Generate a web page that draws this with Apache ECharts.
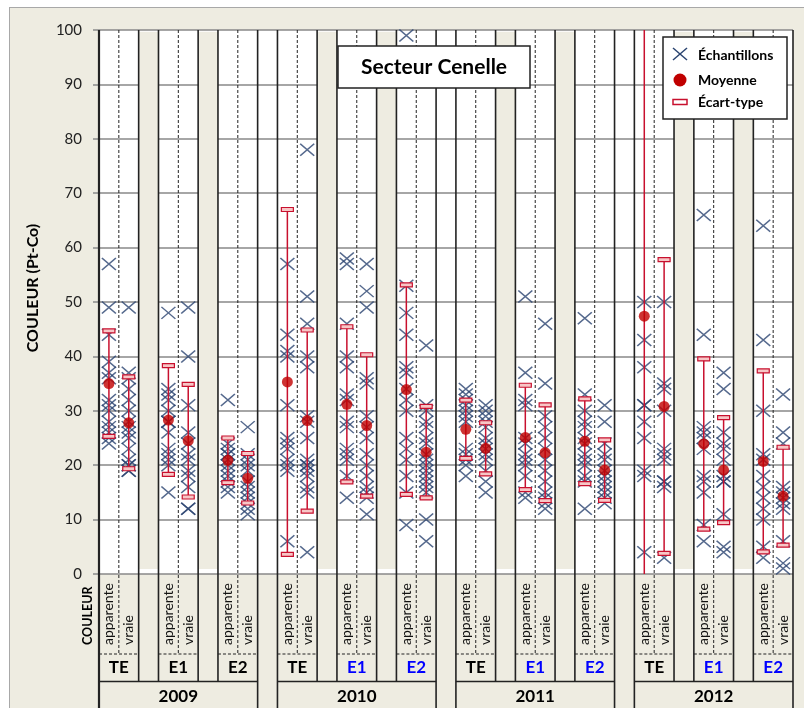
<!DOCTYPE html>
<html><head><meta charset="utf-8">
<script src="https://cdn.jsdelivr.net/npm/echarts@6/dist/echarts.min.js"></script>
<style>
html,body{margin:0;padding:0;background:#fff;}
#wrap{position:relative;width:804px;height:708px;overflow:hidden;background:#fff;}
#frame{position:absolute;left:9px;top:7px;width:820px;height:720px;background:#EEECE1;border:1px solid #A8A8A8;}
#chart{position:absolute;left:0;top:0;width:804px;height:708px;}
</style></head>
<body><div id="wrap"><div id="frame"></div><div id="chart"></div></div>
<script>
const years = ['2009', '2010', '2011', '2012'];
const stations = ['TE', 'E1', 'E2'];
const colorTypes = ['apparente', 'vraie'];
const yTicks = [0, 10, 20, 30, 40, 50, 60, 70, 80, 90, 100];

// order in each year: TE-apparente, TE-vraie, E1-apparente, E1-vraie, E2-apparente, E2-vraie
const samples2009 = [
  [57, 49, 44, 39, 37, 36, 32, 31, 30, 28, 27, 26, 25, 24],
  [49, 37, 36, 34, 32, 30, 28, 27, 26, 25, 23, 21, 20, 20, 19, 19],
  [48, 34, 33, 32, 30, 28, 28, 26, 23, 22, 21, 20, 15],
  [49, 40, 31, 26, 24, 22, 21, 19, 18, 16, 12, 12],
  [32, 24, 23, 22, 22, 21, 20, 19, 18, 17, 16, 15],
  [27, 22, 21, 20, 19, 17, 16, 15, 14, 13, 12, 11]
];
const samples2010 = [
  [57, 44, 41, 40, 31, 25, 24, 23, 21, 20, 19, 6],
  [78, 51, 46, 40, 38, 29, 28, 25, 21, 20, 20, 19, 18, 16, 15, 4],
  [58, 57, 46, 40, 38, 33, 32, 28, 27, 23, 22, 21, 18, 14],
  [57, 52, 49, 36, 35, 29, 27, 25, 22, 20, 18, 16, 15, 14, 11],
  [99, 53, 48, 44, 38, 37, 34, 32, 30, 25, 23, 21, 18, 15, 9],
  [42, 31, 30, 28, 27, 25, 24, 22, 21, 20, 19, 18, 17, 16, 15, 10, 6]
];
const samples2011 = [
  [34, 33, 32, 31, 30, 29, 28, 23, 22, 21, 20, 18],
  [31, 30, 29, 28, 27, 25, 24, 23, 22, 21, 19, 17, 15],
  [51, 37, 32, 31, 25, 24, 22, 21, 20, 18, 15, 14],
  [46, 35, 29, 27, 25, 23, 21, 19, 17, 15, 14, 13, 12],
  [47, 33, 30, 28, 27, 25, 24, 22, 21, 20, 18, 17, 12],
  [31, 28, 24, 22, 21, 19, 18, 17, 16, 15, 14, 13]
];
const samples2012 = [
  [50, 43, 38, 31, 31, 28, 25, 19, 18, 4],
  [50, 35, 34, 30, 23, 22, 21, 17, 17, 16, 3],
  [66, 44, 27, 26, 25, 23, 18, 17, 15, 9, 6],
  [37, 34, 26, 24, 23, 21, 18, 17, 17, 11, 5, 4],
  [64, 43, 30, 22, 21, 18, 16, 14, 12, 10, 5, 3],
  [33, 26, 24, 16, 15, 14, 13, 12, 6, 2, 1]
];
const means2009 = [35.0, 27.8, 28.3, 24.5, 20.9, 17.6];
const means2010 = [35.3, 28.2, 31.2, 27.3, 33.9, 22.4];
const means2011 = [26.6, 23.1, 25.1, 22.3, 24.4, 19.1];
const means2012 = [47.4, 30.8, 23.9, 19.1, 20.7, 14.3];
const sd2009 = [9.7, 8.45, 10.0, 10.35, 4.1, 4.55];
const sd2010 = [31.7, 16.65, 14.25, 13.0, 19.25, 8.4];
const sd2011 = [5.35, 4.7, 9.6, 8.8, 7.8, 5.55];
const sd2012 = [60.0, 27.0, 15.65, 9.65, 16.65, 9.0];

const allSamples = [samples2009, samples2010, samples2011, samples2012];
const allMeans = [means2009, means2010, means2011, means2012];
const allSd = [sd2009, sd2010, sd2011, sd2012];

const BEIGE = '#EEECE1';
const CROSS = '#2A4470';
const RED = '#C00000';
const FONT = 'Lato, "Open Sans", sans-serif';

// category list: per year TE(app,vraie), gap, E1(app,vraie), gap, E2(app,vraie), year gap
const categories = [];
years.forEach((y, yi) => {
  stations.forEach((s, si) => {
    colorTypes.forEach(t => categories.push(t));
    if (!(yi === years.length - 1 && si === stations.length - 1)) categories.push('');
  });
});
const idx = (yi, si, ti) => 9 * yi + 3 * si + ti;

const sampleData = [], meanData = [], sdData = [], bandData = [];
years.forEach((y, yi) => {
  stations.forEach((s, si) => {
    colorTypes.forEach((t, ti) => {
      const k = 2 * si + ti, c = idx(yi, si, ti);
      allSamples[yi][k].forEach(v => sampleData.push([c, v]));
      meanData.push([c, allMeans[yi][k]]);
      sdData.push([c, allMeans[yi][k], allSd[yi][k]]);
    });
  });
  bandData.push([idx(yi, 0, 2), 0], [idx(yi, 1, 2), 0]);
});

const chart = echarts.init(document.getElementById('chart'), null, {renderer: 'canvas'});
const option = {
  backgroundColor: 'transparent',
  animation: false,
  textStyle: {fontFamily: FONT},
  grid: {left: 99, top: 30, width: 694, height: 544, show: true, backgroundColor: '#fff', borderWidth: 0},
  xAxis: {
    type: 'category', data: categories, boundaryGap: true,
    axisLine: {show: false}, axisTick: {show: false}, splitLine: {show: false},
    axisLabel: {interval: 0, rotate: 90, align: 'left', verticalAlign: 'middle', margin: 71,
      fontFamily: FONT, fontSize: 14, color: '#111'}
  },
  yAxis: {
    type: 'value', min: yTicks[0], max: yTicks[yTicks.length - 1], interval: 10,
    axisLine: {show: false},
    axisTick: {show: true, length: 6, lineStyle: {color: '#8a8a8a', width: 1.5}},
    axisLabel: {margin: 17, fontFamily: FONT, fontSize: 15, color: '#222'},
    splitLine: {show: true, lineStyle: {color: '#888', width: 1.5}}
  },
  series: [
    {
      name: 'bands', type: 'custom', z: 1, silent: true, data: bandData,
      renderItem: (params, api) => {
        const i = api.value(0);
        const top = api.coord([i, 99.7]);
        const bot = api.coord([i, 0.9]);
        const w = api.size([1, 0])[0];
        return {type: 'rect', shape: {x: top[0] - w / 2, y: top[1], width: w, height: bot[1] - top[1]},
          style: {fill: BEIGE}};
      }
    },
    {
      name: 'Échantillons', type: 'scatter', z: 3, data: sampleData,
      symbol: 'path://M0,0L14,12M14,0L0,12', symbolSize: [14, 12],
      itemStyle: {color: 'rgba(0,0,0,0)', borderColor: CROSS, borderWidth: 1.5}
    },
    {
      name: 'Écart-type', type: 'custom', z: 4, data: sdData, clip: true,
      renderItem: (params, api) => {
        const i = api.value(0), m = api.value(1), sd = api.value(2);
        const hi = m + sd, lo = m - sd;
        const pHi = api.coord([i, Math.min(hi, 100)]);
        const pLo = api.coord([i, Math.max(lo, 0)]);
        const children = [{type: 'line', shape: {x1: pHi[0], y1: pHi[1], x2: pLo[0], y2: pLo[1]},
          style: {stroke: '#C8102E', lineWidth: 1.5}}];
        const cw = 12, ch = 4;
        [[hi, pHi], [lo, pLo]].forEach(([v, p]) => {
          if (v <= 100 && v >= 0) children.push({type: 'rect',
            shape: {x: p[0] - cw / 2, y: p[1] - ch / 2, width: cw, height: ch},
            style: {fill: '#F7C6C6', stroke: '#C8102E', lineWidth: 1.2}});
        });
        return {type: 'group', children};
      }
    },
    {
      name: 'Moyenne', type: 'scatter', z: 5, data: meanData,
      symbol: 'circle', symbolSize: 11, itemStyle: {color: RED}
    }
  ]
};
chart.setOption(option);

function bx(b) {
  const c0 = chart.convertToPixel({xAxisIndex: 0}, 0);
  const c1 = chart.convertToPixel({xAxisIndex: 0}, 1);
  const w = c1 - c0;
  return c0 - w / 2 + b * w;
}
const plotTop = chart.convertToPixel({yAxisIndex: 0}, 100);
const plotBottom = chart.convertToPixel({yAxisIndex: 0}, 0);
const rowPair = 654, rowStation = 681.5, rowEnd = 712;

const g = [];
const nB = categories.length;
for (let b = 0; b <= nB; b++) {
  const r = b === nB ? 8 : b % 9;
  const x = bx(b);
  if (r === 1 || r === 4 || r === 7) {
    g.push({type: 'line', z: 2, silent: true, shape: {x1: x, y1: plotTop, x2: x, y2: rowPair},
      style: {stroke: '#222', lineWidth: 1, lineDash: [3, 2]}});
  } else if (r === 0 || r === 8) {
    g.push({type: 'line', z: 2, silent: true, shape: {x1: x, y1: plotTop, x2: x, y2: rowEnd},
      style: {stroke: '#222', lineWidth: b === 0 ? 2.2 : 1.6}});
  } else {
    g.push({type: 'line', z: 2, silent: true, shape: {x1: x, y1: plotTop, x2: x, y2: rowStation},
      style: {stroke: '#222', lineWidth: 1.6}});
  }
}
years.forEach((y, yi) => {
  stations.forEach((s, si) => {
    const a = bx(idx(yi, si, 0)), c = bx(idx(yi, si, 2)), m = bx(idx(yi, si, 1));
    g.push({type: 'line', z: 2, silent: true, shape: {x1: a, y1: rowPair, x2: c, y2: rowPair},
      style: {stroke: '#222', lineWidth: 1, lineDash: [3, 2]}});
    g.push({type: 'text', z: 6, silent: true, x: m, y: 668,
      style: {text: s, fontFamily: FONT, fontWeight: 'bold', fontSize: 17,
        fill: (yi > 0 && si > 0) ? '#0000FF' : '#000', align: 'center', verticalAlign: 'middle'}});
  });
  const ya = bx(9 * yi), yb = bx(9 * yi + 8);
  g.push({type: 'line', z: 2, silent: true, shape: {x1: ya, y1: rowStation, x2: yb, y2: rowStation},
    style: {stroke: '#222', lineWidth: 1.6}});
  g.push({type: 'text', z: 6, silent: true, x: (ya + yb) / 2, y: 697,
    style: {text: y, fontFamily: FONT, fontWeight: 'bold', fontSize: 17, fill: '#000',
      align: 'center', verticalAlign: 'middle'}});
});
// side labels
g.push({type: 'text', z: 6, silent: true, x: 88, y: 645, rotation: Math.PI / 2,
  style: {text: 'COULEUR', fontFamily: FONT, fontWeight: 'bold', fontSize: 12.5, fill: '#000',
    align: 'left', verticalAlign: 'middle'}});
g.push({type: 'text', z: 6, silent: true, x: 33, y: (plotTop + plotBottom) / 2 - 14, rotation: Math.PI / 2,
  style: {text: 'COULEUR (Pt-Co)', fontFamily: FONT, fontWeight: 'bold', fontSize: 16, fill: '#000',
    align: 'center', verticalAlign: 'middle'}});
// title box
g.push({type: 'rect', z: 8, silent: true, shape: {x: 338, y: 46, width: 192, height: 42},
  style: {fill: '#fff', stroke: '#222', lineWidth: 1.5}});
g.push({type: 'text', z: 9, silent: true, x: 434, y: 67,
  style: {text: 'Secteur Cenelle', fontFamily: FONT, fontWeight: 'bold', fontSize: 21, fill: '#000',
    align: 'center', verticalAlign: 'middle'}});
// legend box
g.push({type: 'rect', z: 8, silent: true, shape: {x: 663, y: 37, width: 124, height: 82},
  style: {fill: '#fff', stroke: '#222', lineWidth: 1.5}});
g.push({type: 'polyline', z: 9, silent: true, shape: {points: [[673, 48], [687, 60]]},
  style: {stroke: CROSS, lineWidth: 1.5}});
g.push({type: 'polyline', z: 9, silent: true, shape: {points: [[687, 48], [673, 60]]},
  style: {stroke: CROSS, lineWidth: 1.5}});
g.push({type: 'circle', z: 9, silent: true, shape: {cx: 680, cy: 80, r: 6.5}, style: {fill: RED}});
g.push({type: 'rect', z: 9, silent: true, shape: {x: 673, y: 99.5, width: 14, height: 5},
  style: {fill: '#fff', stroke: '#C8102E', lineWidth: 1.5}});
[['Échantillons', 55], ['Moyenne', 80], ['Écart-type', 102]].forEach(([t, yy]) => {
  g.push({type: 'text', z: 9, silent: true, x: 698, y: yy,
    style: {text: t, fontFamily: FONT, fontWeight: 'bold', fontSize: 14, fill: '#000',
      align: 'left', verticalAlign: 'middle'}});
});
chart.setOption({graphic: g});
</script>
</body></html>
